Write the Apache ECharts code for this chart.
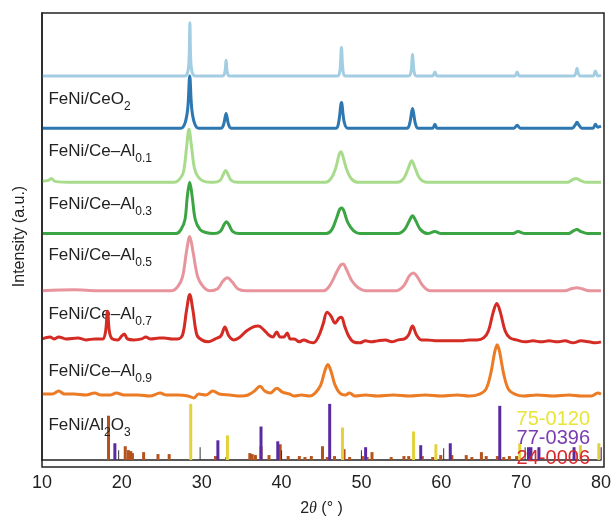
<!DOCTYPE html>
<html>
<head>
<meta charset="utf-8">
<script src="https://cdn.jsdelivr.net/npm/echarts@6/dist/echarts.min.js"></script>
<style>
  html, body { margin: 0; padding: 0; background: #fff; }
  #chart { width: 614px; height: 522px; }
</style>
</head>
<body>
<div id="chart"></div>
<script>
// XRD 图谱：7 条曲线堆叠 + 底部标准卡片竖线

// 曲线数据 [2θ, 相对强度]，强度以各自基线为 0
const feniCeO2 = [[10,0],[27.9,0],[28.25,4],[28.42,18],[28.52,54],[28.62,18],[28.8,4],[29.2,0],
  [32.6,0],[32.9,4],[33.05,16],[33.2,4],[33.5,0],[47.0,0],[47.3,5],[47.5,29],[47.7,5],[48.0,0],
  [55.9,0],[56.2,4],[56.4,22],[56.6,4],[56.9,0],[58.9,0],[59.2,4],[59.5,0],[69.2,0],[69.5,4],[69.8,0],
  [76.6,0],[76.85,3],[77.0,8],[77.15,3],[77.4,0],[79.0,0],[79.3,5],[79.6,0],[80,1]];
const feniCeAl01 = [[10,0],[27.4,0],[27.9,5],[28.25,20],[28.5,53],[28.75,20],[29.1,5],[29.6,0],
  [32.4,0],[32.75,4],[33.05,15],[33.35,4],[33.7,0],[46.8,0],[47.15,6],[47.5,26],[47.85,6],[48.3,0],
  [55.7,0],[56.05,5],[56.4,20],[56.75,5],[57.1,0],[58.9,0],[59.2,4],[59.5,0],[69.1,0],[69.5,3],[69.9,0],
  [76.4,0],[76.75,3],[77.0,6],[77.25,3],[77.6,0],[79.0,0],[79.3,4],[79.6,1],[80,2]];
const feniCeAl03 = [[10,1],[10.8,2],[11.2,4],[11.6,1],[14,0],[26.6,0],[27.2,3],[27.7,10],[28.1,35],[28.4,54],
  [28.7,38],[29.1,14],[29.6,5],[30.3,1],[31.5,0],[32.3,2],[32.7,8],[33.0,12],[33.3,8],[33.7,2],[34.5,0],
  [45.5,0],[46.2,4],[46.8,15],[47.2,28],[47.45,31],[47.7,26],[48.2,12],[48.8,3],[49.6,0],
  [54.5,0],[55.3,4],[55.9,15],[56.3,22],[56.7,15],[57.3,4],[58.2,0],[75.8,0],[76.5,3],[76.9,4],[77.4,2],[78.2,0],[80,0]];
const feniCeAl05 = [[10,0],[26.8,0],[27.4,4],[27.9,14],[28.2,38],[28.5,52],[28.8,38],[29.2,14],[29.8,4],[30.5,1],[31.5,0],
  [32.3,2],[32.8,9],[33.1,12],[33.4,9],[33.9,2],[34.7,0],[45.6,0],[46.3,4],[46.9,16],[47.3,25],[47.55,26],[47.8,23],[48.3,11],[49.0,3],[49.8,0],
  [54.6,0],[55.4,4],[56.0,13],[56.4,18],[56.8,13],[57.4,4],[58.3,0],[59.2,2],[60,0],[69.0,0],[69.6,2],[70.5,0],
  [75.9,0],[76.6,3],[77.0,4],[77.5,2],[78.3,0],[80,0]];
const feniCeAl07 = [[10,0],[14,1],[17,0],[26.3,0],[27.0,4],[27.6,14],[28.1,40],[28.5,55],[28.9,40],[29.5,14],[30.2,4],[31.0,0],
  [32.0,2],[32.6,9],[33.2,13],[33.8,9],[34.5,2],[35.5,0],[45.3,0],[46.1,6],[46.9,19],[47.4,26],[47.7,27],[48.1,22],[48.8,10],[49.6,3],[50.5,0],
  [54.4,0],[55.3,5],[56.0,15],[56.5,18],[57.0,14],[57.7,5],[58.6,0],[75.5,0],[76.3,2],[77.0,3],[77.6,2],[78.5,0],[80,0]];
const feniCeAl09 = [[10,1],[11.0,3],[11.5,1],[12.1,3],[13,1],[14.5,2],[15.5,0],[16.6,1],[17.6,1],[17.95,8],[18.2,29],[18.45,8],[18.8,1],
  [19.5,0],[20.0,4],[20.3,6],[20.7,1],[21.5,0],[22.5,1],[23.0,3],[23.6,1],[24.7,2],[25.3,2],[26.3,1],[27.0,1],[27.6,5],[28.1,30],[28.5,46],[28.9,30],[29.4,5],
  [30.0,0],[30.8,-2],[31.7,1],[32.4,4],[32.9,13],[33.4,4],[34.0,0],[34.8,3],[35.6,9],[36.4,13],[37.1,14],[37.8,10],[38.4,5],[38.9,3],[39.4,8],[39.8,3],
  [40.3,3],[40.7,7],[41.1,1],[41.6,1],[42.2,-2],[42.8,0],[43.4,-2],[44.0,-3],[44.6,3],[45.2,16],[45.7,28],[46.2,24],[46.7,17],[47.2,22],[47.5,23],[47.9,14],[48.4,4],
  [49.0,-2],[49.8,-3],[50.5,-1],[51.3,-2],[52.0,-1],[53.0,0],[53.8,-2],[54.6,0],[55.4,1],[55.9,5],[56.4,14],[56.9,5],[57.5,0],[58.2,0],[59.5,-1],
  [61,-1],[62.5,-1],[63.5,0],[64.5,0],[65.3,2],[65.9,9],[66.5,28],[66.95,37],[67.4,28],[68.0,9],[68.6,2],[69.4,0],[70.5,-2],[71.5,-1],[72.5,-2],
  [73.5,-1],[74.5,-2],[75.5,-1],[76.5,-3],[77.5,-1],[78.5,-2],[79.3,-3],[80,-2]];
const feniAl2O3 = [[10,1],[11.3,1],[12.1,4],[12.8,1],[14.0,1],[15.5,0],[16.6,2],[17.4,0],[18.5,0],[19.3,2],[20.3,0],[22,0],[23.5,-1],
  [24.8,2],[25.6,0],[27,0],[28.3,-1],[29.0,-3],[29.6,1],[30.5,0],[31.4,4],[32.2,1],[33.5,0],[35.0,-1],[35.8,0],[36.6,4],[37.3,9],[37.9,4],
  [38.6,2],[39.4,7],[40.1,3],[41.0,1],[41.6,-1],[42.5,0],[43.5,-1],[44.2,2],[44.9,10],[45.4,24],[45.8,31],[46.2,24],[46.7,10],[47.3,2],
  [48.0,0],[48.5,2],[49.2,-1],[50.5,0],[52,-1],[54,0],[56,-1],[58,0],[60,-1],[62,0],[63.5,-1],[64.8,1],[65.6,6],[66.2,22],[66.7,44],
  [67.0,51],[67.3,44],[67.8,22],[68.4,6],[69.2,1],[70.3,-1],[72,0],[74,-1],[76,0],[77.5,-1],[78.8,-1],[79.6,2],[80,1]];

const curves = [feniCeO2, feniCeAl01, feniCeAl03, feniCeAl05, feniCeAl07, feniCeAl09, feniAl2O3];
const curveNames = ['{t|FeNi/CeO}{s|2}', '{t|FeNi/Ce–Al}{s|0.1}', '{t|FeNi/Ce–Al}{s|0.3}', '{t|FeNi/Ce–Al}{s|0.5}',
  '{t|FeNi/Ce–Al}{s|0.7}', '{t|FeNi/Ce–Al}{s|0.9}', '{t|FeNi/Al}{s|2}{t|O}{s|3}'];
const offsets = [390, 337, 282, 230, 172, 122, 66];
const labelDrop = [25.5, 24.5, 23.5, 24, 25.5, 33, 32.5];
const colors = ['#a3cde3', '#2f77b0', '#a8dc8c', '#3ba543', '#e8949d', '#d42b25', '#ec7b25'];

// 标准卡片 [2θ, 强度]
const card750120 = [[28.5,57],[33.1,25],[47.5,33],[56.4,29],[59.2,16],[69.7,17],[77.3,15],[79.6,17]];
const card770396 = [[19.0,17],[31.9,20],[37.3,34],[39.4,19],[45.9,57],[50.4,13],[57.3,15],[61.0,17],[67.2,55],
  [70.8,13],[71.1,13],[72.1,13],[76.5,13],[80.0,13]];
const card240006 = [[18.2,45],[20.3,14],[20.7,10],[21.0,9],[21.2,7],[22.6,8],[24.4,6],[25.8,6],[31.6,4],[33.0,3],
  [35.9,7],[36.2,6],[36.6,5],[37.3,14],[38.3,5],[39.7,16],[40.7,4],[42.1,4],[42.8,3],[43.6,4],[45.0,14],[45.6,3],
  [46.5,4],[47.7,11],[48.4,3],[50.0,4],[50.6,3],[51.2,8],[53.6,3],[55.2,4],[55.8,4],[57.5,4],[58.8,3],[59.8,5],
  [61.2,5],[63.0,5],[63.7,3],[64.9,8],[65.5,4],[66.9,4],[67.7,3],[68.4,4],[69.3,4]];
const cardThin = [[19.6,10],[29.8,13],[40.0,10],[50.0,10],[60.3,12],[70.5,13]];
const cardNames = ['75-0120', '77-0396', '24-0006'];
const cardColors = ['#e2d33c', '#5a2aa0', '#b4521c'];
const cardTextColors = ['#e8e43a', '#7a3cb2', '#d8282c'];

const xTicks = [10, 20, 30, 40, 50, 60, 70, 80];

const chart = echarts.init(document.getElementById('chart'));

const series = [];
curves.forEach((c, i) => {
  series.push({
    type: 'line',
    data: c.map(p => [p[0], p[1] + offsets[i]]),
    symbol: 'none',
    smooth: 0.35,
    lineStyle: { color: colors[i], width: 3 },
    z: 3 + i,
    markPoint: {
      symbol: 'circle', symbolSize: 0, silent: true,
      data: [{ coord: [10.8, offsets[i] - labelDrop[i]] }],
      label: {
        show: true, position: 'right', distance: 0,
        formatter: curveNames[i],
        rich: {
          t: { fontSize: 17, fontFamily: 'Liberation Sans', color: '#222', verticalAlign: 'top', lineHeight: 20 },
          s: { fontSize: 12, fontFamily: 'Liberation Sans', color: '#222', verticalAlign: 'top', lineHeight: 14, padding: [10, 0, 0, 0] }
        }
      }
    }
  });
});

const cards = [card240006, card770396, card750120];
const cardCols = [cardColors[2], cardColors[1], cardColors[0]];
cards.forEach((c, i) => {
  series.push({
    type: 'bar', data: c, barWidth: 3, barGap: '-100%',
    itemStyle: { color: cardCols[i] }, z: 2, silent: true
  });
});
series.push({
  type: 'bar', data: cardThin, barWidth: 1, barGap: '-100%',
  itemStyle: { color: '#333' }, z: 2, silent: true
});

chart.setOption({
  animation: false,
  grid: { left: 42, right: 10, top: 13, bottom: 55 },
  xAxis: {
    type: 'value', min: 10, max: 80, interval: 10,
    name: '2{i|θ} (° )', nameLocation: 'middle', nameGap: 41,
    nameTextStyle: { fontSize: 16, fontFamily: 'Liberation Sans', color: '#222',
      rich: { i: { fontStyle: 'italic', fontSize: 16, fontFamily: 'Liberation Serif' } } },
    axisLine: { lineStyle: { color: '#222', width: 1.5 } },
    axisTick: { show: false },
    splitLine: { show: false },
    axisLabel: { fontSize: 18, fontFamily: 'Liberation Sans', color: '#222', margin: 14,
      formatter: v => xTicks.includes(v) ? String(v) : '' }
  },
  yAxis: {
    type: 'value', min: 0, max: 454,
    name: 'Intensity (a.u.)', nameLocation: 'middle', nameGap: 14,
    nameTextStyle: { fontSize: 16, fontFamily: 'Liberation Sans', color: '#222' },
    axisLine: { show: true, lineStyle: { color: '#222', width: 1.5 } },
    axisTick: { show: false }, axisLabel: { show: false }, splitLine: { show: false }
  },
  graphic: [
    { type: 'rect', shape: { x: 42, y: 13, width: 562, height: 454 },
      style: { fill: 'none', stroke: '#222', lineWidth: 1.5 }, z: 100, silent: true }
  ].concat(cardNames.map((n, i) => ({
    type: 'text', right: 24, top: 409 + i * 19.5, z: 100,
    style: { text: n, fontSize: 20, fontFamily: 'Liberation Sans', fill: cardTextColors[i] }
  }))),
  series: series
});
</script>
</body>
</html>
